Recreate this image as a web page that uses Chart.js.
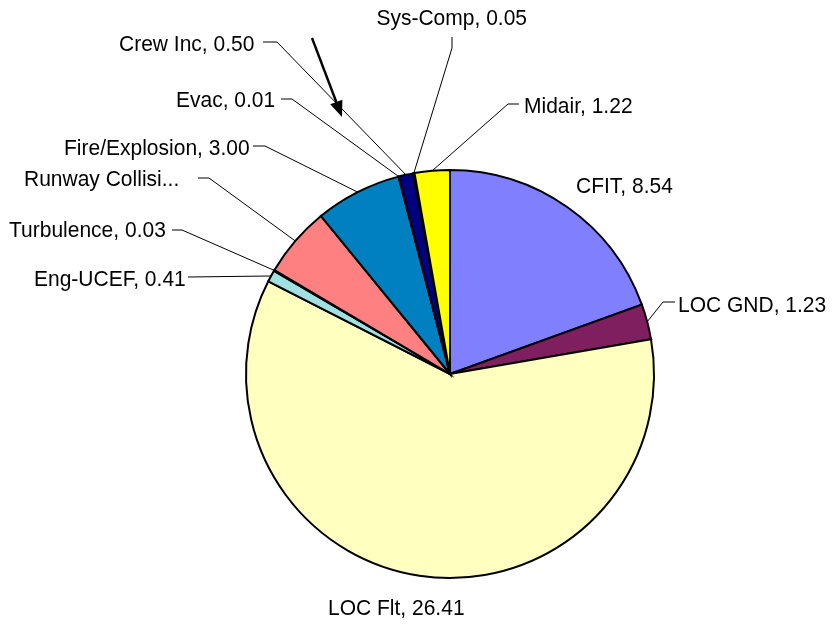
<!DOCTYPE html>
<html>
<head>
<meta charset="utf-8">
<script src="https://cdn.jsdelivr.net/npm/chart.js@4"></script>
<style>
html,body{margin:0;padding:0;background:#fff;}
#wrap{width:837px;height:628px;position:relative;}
</style>
</head>
<body>
<div id="wrap"><canvas id="c" width="837" height="628"></canvas></div>
<script>
// ---- data ----
const categories = ["CFIT", "LOC GND", "LOC Flt", "Eng-UCEF", "Turbulence", "Runway Collision", "Fire/Explosion", "Evac", "Crew Inc", "Sys-Comp", "Midair"];
const values = [8.54, 1.23, 26.41, 0.41, 0.03, 2.45, 3.00, 0.01, 0.50, 0.05, 1.22];
const shownNames = ["CFIT", "LOC GND", "LOC Flt", "Eng-UCEF", "Turbulence", "Runway Collisi...", "Fire/Explosion", "Evac", "Crew Inc", "Sys-Comp", "Midair"];

// ---- styles / layout ----
const colors = ["#8080FF", "#7F1F5F", "#FFFFC0", "#A0E0E0", "#600080", "#FF8080", "#0080C0", "#CCCCFF", "#000080", "#FF00FF", "#FFFF00"];
// text: [x, baseline, align], line: [startX, startY, elbowX, elbowY] or null
const labelLayout = [
  {t:[576,193,'left'], line:null},
  {t:[678,312,'left'], line:[675,302,663,302]},
  {t:[328,615,'left'], line:null},
  {t:[34,286,'left'], line:[188,277,188,277]},
  {t:[9,237,'left'], line:[172,230,182,230]},
  {t:[24,186,'left'], line:[198,178,209,178]},
  {t:[64,155,'left'], line:[253,146,265,146]},
  {t:[176,107,'left'], line:[281,99,292,99]},
  {t:[119,51,'left'], line:[263,42,277,42]},
  {t:[527,25,'right'], line:[452,37,452,48]},
  {t:[524,113,'left'], line:[519,104,508,104]}
];

const labelPlugin = {
  id: 'labels',
  afterDraw(chart) {
    const ctx = chart.ctx;
    const meta = chart.getDatasetMeta(0);
    ctx.save();
    ctx.fillStyle = '#000';
    ctx.strokeStyle = '#000';
    ctx.lineWidth = 1;
    meta.data.forEach((arc, i) => {
      const L = labelLayout[i];
      const p = arc.getProps(['x','y','startAngle','endAngle','outerRadius'], true);
      const mid = (p.startAngle + p.endAngle) / 2;
      const ex = p.x + Math.cos(mid) * p.outerRadius;
      const ey = p.y + Math.sin(mid) * p.outerRadius;
      if (L.line) {
        ctx.beginPath();
        ctx.moveTo(L.line[0], L.line[1]);
        ctx.lineTo(L.line[2], L.line[3]);
        ctx.lineTo(ex, ey);
        ctx.stroke();
      }
      const txt = shownNames[i] === "Runway Collisi..." ? shownNames[i] : shownNames[i] + ', ' + values[i].toFixed(2);
      ctx.save();
      ctx.translate(L.t[0], L.t[1]);
      ctx.scale(1, 1.08);
      ctx.font = '21px "Liberation Sans", Arial, sans-serif';
      ctx.textAlign = L.t[2];
      ctx.textBaseline = 'alphabetic';
      ctx.fillText(txt, 0, 0);
      ctx.restore();
    });
    // annotation arrow
    const x1 = 312, y1 = 38, x2 = 342, y2 = 117;
    const ang = Math.atan2(y2 - y1, x2 - x1);
    const hl = 16, hw = 6.5;
    const bx = x2 - Math.cos(ang) * hl, by = y2 - Math.sin(ang) * hl;
    ctx.lineWidth = 2.4;
    ctx.beginPath();
    ctx.moveTo(x1, y1);
    ctx.lineTo(bx, by);
    ctx.stroke();
    ctx.beginPath();
    ctx.moveTo(x2, y2);
    ctx.lineTo(bx + Math.sin(ang) * hw, by - Math.cos(ang) * hw);
    ctx.lineTo(bx - Math.sin(ang) * hw, by + Math.cos(ang) * hw);
    ctx.closePath();
    ctx.fill();
    ctx.restore();
  }
};

new Chart(document.getElementById('c'), {
  type: 'pie',
  data: {
    labels: categories,
    datasets: [{
      data: values,
      backgroundColor: colors,
      borderColor: '#000',
      borderWidth: 2,
      borderJoinStyle: 'miter'
    }]
  },
  options: {
    responsive: false,
    animation: false,
    radius: 204,
    layout: { padding: { left: 240, right: 177, top: 164, bottom: 44 } },
    plugins: { legend: { display: false }, tooltip: { enabled: false } }
  },
  plugins: [labelPlugin]
});
</script>
</body>
</html>
